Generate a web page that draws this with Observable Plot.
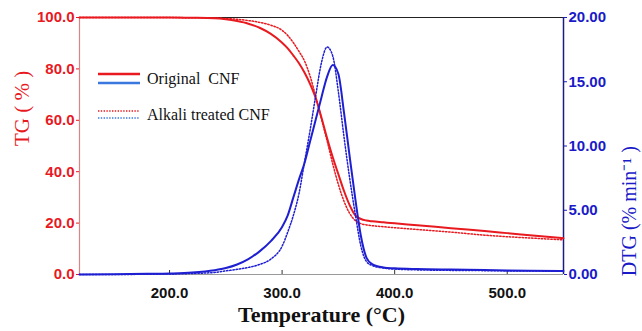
<!DOCTYPE html>
<html><head><meta charset="utf-8">
<script src="https://cdn.jsdelivr.net/npm/d3@7"></script>
<script src="https://cdn.jsdelivr.net/npm/@observablehq/plot@0.6"></script>
<style>
html,body{margin:0;padding:0;background:#fff;}
#wrap{position:relative;width:642px;height:331px;overflow:hidden;}
</style></head><body><div id="wrap"></div>
<script>
// ---- data ----
const tempC = [120,150,180,200,220,240,250,260,270,280,290,300,305,310,315,320,325,330,335,340,345,350,355,360,365,370,375,380,390,400,420,450,480,500,520,550];
const tgOriginal = [100,100,100,100,99.9,99.7,99.3,98.6,97.6,96.0,93.6,90.2,88.0,85.2,82.2,78.5,74.0,68.5,61.0,53.0,45.6,39.0,32.5,27.0,23.0,21.6,21.0,20.7,20.3,19.9,19.2,18.0,16.9,16.1,15.3,14.1];
const tgAlkali   = [100,100,100,100,99.9,99.8,99.6,99.3,98.8,98.1,97.0,95.0,93.0,90.2,86.8,83.0,77.0,69.0,60.5,52.0,43.0,35.0,28.5,23.8,21.0,19.8,19.3,19.0,18.6,18.2,17.5,16.5,15.3,14.7,14.2,13.5];
const dtgOriginal = [0,0.02,0.05,0.08,0.15,0.33,0.5,0.78,1.2,1.8,2.6,3.7,4.6,6.0,7.4,8.7,10.4,12.1,13.8,15.4,16.3,15.6,12.6,9.2,5.9,3.0,1.3,0.8,0.55,0.48,0.42,0.38,0.35,0.32,0.30,0.28];
const dtgAlkali   = [0,0,0.02,0.04,0.08,0.16,0.28,0.4,0.55,0.78,1.2,2.2,3.3,4.6,6.3,8.8,11.3,14.0,16.5,17.7,17.0,14.2,10.7,7.5,4.7,2.2,1.0,0.7,0.5,0.42,0.36,0.32,0.30,0.28,0.27,0.25];
const xTicks = [200,300,400,500];
const tgTicks = [0,20,40,60,80,100];
const dtgTicks = [0,5,10,15,20];
const legendLabels = ["Original  CNF", "Alkali treated CNF"];
const xDomain = [120, 550];
const tgDomain = [0, 100];
const dtgMax = 20;

const K = tgDomain[1] / dtgMax; // DTG values drawn on the TG scale
const rows = tempC.map((t, i) => ({t, tgO: tgOriginal[i], tgA: tgAlkali[i], dO: dtgOriginal[i] * K, dA: dtgAlkali[i] * K}));

const RED = "#e8191f", BLUE = "#1f1fd2", BLUE_AX = "#1a1ac8";
const W = 642, H = 331, mL = 79, mR = 79, mT = 17, mB = 57;
const frameH = H - mT - mB;
const SANS = "Liberation Sans, Arial, sans-serif";
const SERIF = "Liberation Serif, Times New Roman, serif";
const DOT = "1.4,1.8";

const chart = Plot.plot({
  width: W, height: H,
  marginLeft: mL, marginRight: mR, marginTop: mT, marginBottom: mB,
  style: {background: "white", fontFamily: SANS, overflow: "visible"},
  x: {domain: xDomain},
  y: {domain: tgDomain},
  marks: [
    Plot.ruleY([tgDomain[1]], {stroke: "#222", strokeWidth: 1.2}),
    Plot.ruleY([tgDomain[0]], {stroke: "#9a9a9a", strokeWidth: 1.2}),
    Plot.ruleX([xDomain[0]], {stroke: "#d98585", strokeWidth: 1.2}),
    Plot.ruleX([xDomain[1]], {stroke: "#1c1c80", strokeWidth: 1.5}),
    Plot.tickX(xTicks, {x: d => d, stroke: "#333", insetTop: frameH - 4}),
    Plot.axisY(tgTicks, {anchor: "left", tickSize: 3, tickPadding: 2, tickFormat: d => d.toFixed(1), color: RED, fontSize: 15, fontWeight: "bold", label: null}),
    Plot.axisY(dtgTicks.map(d => d * K), {anchor: "right", tickSize: 3, tickPadding: 2, tickFormat: d => (d / K).toFixed(2), color: BLUE_AX, fontSize: 15, fontWeight: "bold", label: null}),
    Plot.axisX(xTicks, {anchor: "bottom", tickSize: 0, tickPadding: 13, tickFormat: d => d.toFixed(1), color: "#111", fontSize: 15, fontWeight: "bold", label: null}),
    Plot.line(rows, {x: "t", y: "tgA", stroke: RED, strokeWidth: 1.5, strokeDasharray: DOT, curve: "monotone-x"}),
    Plot.line(rows, {x: "t", y: "tgO", stroke: RED, strokeWidth: 2, curve: "monotone-x"}),
    Plot.line(rows, {x: "t", y: "dA", stroke: BLUE, strokeWidth: 1.5, strokeDasharray: DOT, curve: "monotone-x"}),
    Plot.line(rows, {x: "t", y: "dO", stroke: BLUE, strokeWidth: 2, curve: "monotone-x"}),
    Plot.text(["TG ( % )"], {text: d => d, frameAnchor: "left", dx: -57, rotate: -90, fill: RED, fontSize: 21, fontFamily: SERIF}),
    Plot.text(["DTG (% min\u207B\u00B9 )"], {text: d => d, frameAnchor: "right", dx: 66, rotate: -90, fill: BLUE_AX, fontSize: 20, fontFamily: SERIF}),
    Plot.text(["Temperature (\u00B0C)"], {text: d => d, frameAnchor: "bottom", dy: 47, fill: "#111", fontSize: 22, fontWeight: "bold", fontFamily: SERIF})
  ]
});

// legend inside the frame
const svg = d3.select(chart.tagName.toLowerCase() === "svg" ? chart : chart.querySelector("svg"));
const lg = svg.append("g").attr("font-family", SERIF).attr("font-size", 16).attr("fill", "#111").attr("text-anchor", "start");
const items = [
  {label: legendLabels[0], dash: null, y: 74},
  {label: legendLabels[1], dash: "1.4,1.4", y: 111}
];
items.forEach(it => {
  const off = it.dash ? 7 : 9;
  lg.append("line").attr("x1", 98).attr("x2", 140).attr("y1", it.y).attr("y2", it.y)
    .attr("stroke", RED).attr("stroke-width", it.dash ? 1.6 : 2.4).attr("stroke-dasharray", it.dash);
  lg.append("line").attr("x1", 98).attr("x2", 140).attr("y1", it.y + off).attr("y2", it.y + off)
    .attr("stroke", "#3a78e0").attr("stroke-width", it.dash ? 1.6 : 2.4).attr("stroke-dasharray", it.dash);
  lg.append("text").attr("x", 147).attr("y", it.y + off / 2).attr("dy", "0.35em").attr("text-anchor", "start").text(it.label);
});

document.getElementById("wrap").appendChild(chart);
</script>
</body></html>
